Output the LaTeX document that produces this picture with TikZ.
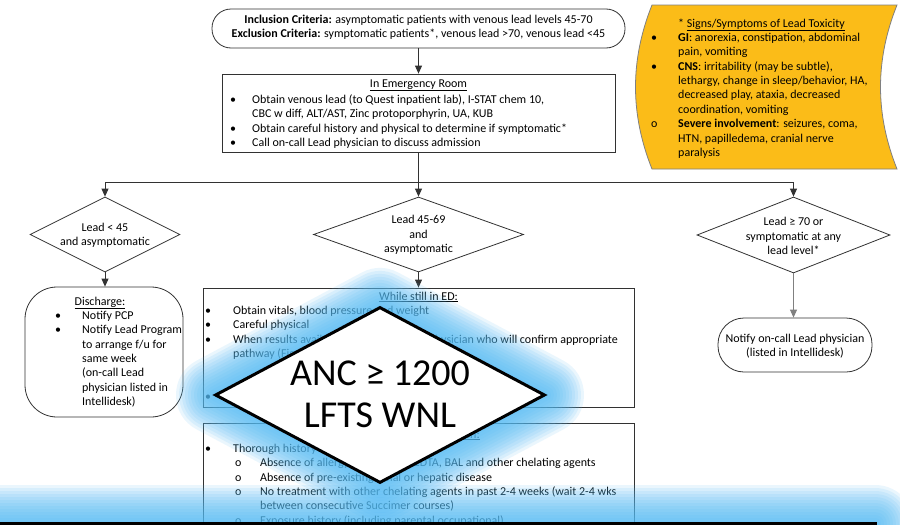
\documentclass[tikz,border=0pt]{standalone}
\usepackage{fontspec}
\setmainfont{Carlito}
\usetikzlibrary{shapes.geometric,arrows.meta}
\definecolor{gold}{RGB}{251,188,24}
\definecolor{glowc}{RGB}{85,188,245}
\definecolor{edge}{RGB}{50,50,50}
\newcommand\bl[2]{\strut\makebox[#1][l]{\textbullet}#2}
\newcommand\ob[2]{\strut\makebox[#1][l]{o}#2}
\newcommand\cl[2]{\strut\hspace*{#1}#2}
\newcommand\sbl[1]{\strut\hspace*{30pt}\makebox[25pt][l]{o}#1}
\newcommand\scl[1]{\strut\hspace*{55pt}#1}
\begin{document}
\begin{tikzpicture}[x=1pt,y=-1pt,
  every node/.style={font=\fontsize{12}{14.4}\selectfont, inner sep=0pt},
  box/.style={draw=edge, line width=0.8pt, fill=white},
  dia/.style={draw=edge, line width=0.8pt, shape=diamond, fill=white},
  arr/.style={draw=edge, line width=0.8pt, -{Triangle[length=8pt,width=7pt]}},
  glowline/.style={glowc, opacity=0.12, line join=round},
  txt/.style={align=left, anchor=north west},
]
\useasboundingbox (0,0) rectangle (900,525);
\clip (0,0) rectangle (900,525);
\fill[white] (0,0) rectangle (900,525);

% ---------- top criteria box
\node[box, rounded corners=19pt, minimum width=413pt, minimum height=39pt] (incl) at (418.5,28.5) {};
\node[align=center] (incltxt) at (418.5,27.5) {\strut\textbf{Inclusion Criteria:} asymptomatic patients with venous lead levels 45-70\\\strut\textbf{Exclusion Criteria:} symptomatic patients*, venous lead >70, venous lead <45};

% ---------- Emergency room box
\node[box, minimum width=393pt, minimum height=78pt] (er) at (418.5,113) {};
\node[anchor=base] (ertitle) at (418.5,87) {\underline{In Emergency Room}};
\node[txt] (erlist) at (230,93) {\bl{22pt}{Obtain venous lead (to Quest inpatient lab), I-STAT chem 10,}\\
\cl{22pt}{CBC w diff, ALT/AST, Zinc protoporphyrin, UA, KUB}\\
\bl{22pt}{Obtain careful history and physical to determine if symptomatic*}\\
\bl{22pt}{Call on-call Lead physician to discuss admission}};

% ---------- signs / symptoms shape
\draw[fill=gold, draw=gray, line width=0.8pt] (652,5) -- (897,5) .. controls (875,60) and (875,114) .. (897,169) -- (652,169) .. controls (630,114) and (630,60) .. (652,5) -- cycle;
\node[anchor=base] (signtitle) at (761.5,27) {* \underline{Signs/Symptoms of Lead Toxicity}};
\node[txt] (signlist) at (651,31) {\bl{27pt}{\textbf{GI}: anorexia, constipation, abdominal}\\
\cl{27pt}{pain, vomiting}\\
\bl{27pt}{\textbf{CNS}: irritability (may be subtle),}\\
\cl{27pt}{lethargy, change in sleep/behavior, HA,}\\
\cl{27pt}{decreased play, ataxia, decreased}\\
\cl{27pt}{coordination, vomiting}\\
\ob{27pt}{\textbf{Severe involvement}: seizures, coma,}\\
\cl{27pt}{HTN, papilledema, cranial nerve}\\
\cl{27pt}{paralysis}};

% ---------- decision diamonds
\node[dia, minimum width=150pt, minimum height=75pt] (d1) at (105,234.5) {};
\node[align=center] (d1t) at (105,235) {Lead < 45\\and asymptomatic};
\node[dia, minimum width=210pt, minimum height=75pt] (d2) at (418.5,234.5) {};
\node[align=center] (d2t) at (418.5,235) {Lead 45-69\\and\\asymptomatic};
\node[dia, minimum width=193pt, minimum height=76pt] (d3) at (793.5,235) {};
\node[align=center] (d3t) at (793.5,236) {Lead ≥ 70 or\\symptomatic at any\\lead level*};

\coordinate (j) at (418.5,182);
\draw[arr] (incl.south) -- (er.north);
\draw[arr] (er.south) -- (d2.north);
\draw[arr] (j) -| (d1.north);
\draw[arr] (j) -| (d3.north);

% ---------- discharge
\node[box, rounded corners=32pt, minimum width=158pt, minimum height=130pt] (dis) at (104,352) {};
\node[anchor=base] (distitle) at (100,305) {\underline{Discharge:}};
\node[txt] (dislist) at (55,309) {\bl{27pt}{Notify PCP}\\
\bl{27pt}{Notify Lead Program}\\
\cl{27pt}{to arrange f/u for}\\
\cl{27pt}{same week}\\
\cl{27pt}{(on-call Lead}\\
\cl{27pt}{physician listed in}\\
\cl{27pt}{Intellidesk)}};
\draw[arr] (d1.south) -- (d1.south |- dis.north);

% ---------- notify on-call
\node[box, rounded corners=26pt, minimum width=154pt, minimum height=54pt] (notify) at (795,345) {};
\node[align=center] (notifyt) at (795,346) {Notify on-call Lead physician\\(listed in Intellidesk)};
\draw[arr, draw=gray] (d3.south) -- (d3.south |- notify.north);

% ---------- while still in ED
\node[box, minimum width=431pt, minimum height=119pt] (ed) at (418.5,347.5) {};
\node[anchor=base] (edtitle) at (418.5,300) {\underline{While still in ED:}};
\node[txt] (edlist) at (205,304) {\bl{28pt}{Obtain vitals, blood pressure and weight}\\
\bl{28pt}{Careful physical}\\
\bl{28pt}{When results available, call on-call Lead physician who will confirm appropriate}\\
\cl{28pt}{pathway (Fig. 2)}\\
\strut\\
\strut\\
\bl{28pt}{}};
\draw[arr] (d2.south) -- (ed.north);

% ---------- admission criteria
\node[box, minimum width=431pt, minimum height=137pt] (adm) at (418.5,491.5) {};
\node[anchor=base] (admtitle) at (430,438) {\underline{Succimer admission:}};
\node[txt] (admlist) at (205,442) {\bl{28pt}{Thorough history}\\
\sbl{Absence of allergy to Succimer, EDTA, BAL and other chelating agents}\\
\sbl{Absence of pre-existing renal or hepatic disease}\\
\sbl{No treatment with other chelating agents in past 2-4 weeks (wait 2-4 wks}\\
\scl{between consecutive Succimer courses)}\\
\sbl{Exposure history (including parental occupational)}};

% ---------- glow around the large diamond
\foreach \w in {78,72,66,60,54,48,42,36,30,24,18,12,6}
  \draw[glowline, line width=\w pt] (380,307) -- (545,395) -- (380,483) -- (215,395) -- cycle;
\node[shape=diamond, draw=black, line width=3pt, fill=white, minimum width=330pt, minimum height=176pt] (anc) at (380,395) {};
\node[align=center, font=\fontsize{38}{42}\selectfont] (anct) at (380,394) {ANC ≥ 1200\\LFTS WNL};

% ---------- glow around the bottom shape
\foreach \w in {78,72,66,60,54,48,42,36,30,24,18,12,6}
  \draw[glowline, line width=\w pt] (-100,523.5) rectangle (875,700);
\draw[draw=black, line width=3pt, fill=white] (-100,523.5) rectangle (875,700);
\end{tikzpicture}
\end{document}
